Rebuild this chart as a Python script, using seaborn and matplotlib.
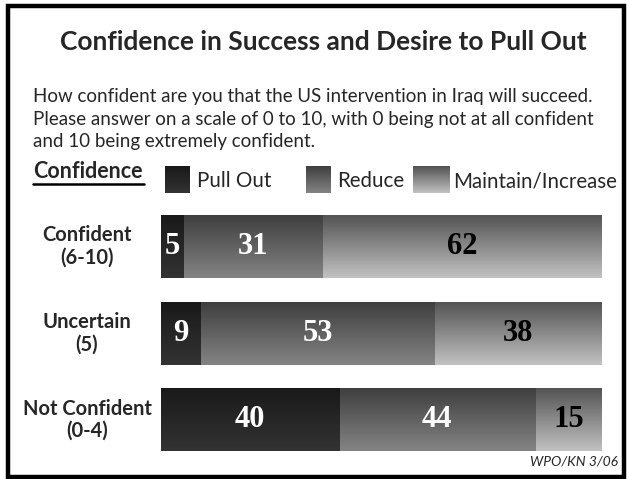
import numpy as np
import pandas as pd
import matplotlib
matplotlib.use("Agg")
import matplotlib.pyplot as plt
from matplotlib.patches import Rectangle
from matplotlib.transforms import blended_transform_factory
import seaborn as sns

# data
categories = ["Confident\n(6-10)", "Uncertain\n(5)", "Not Confident\n(0-4)"]
series = ["Pull Out", "Reduce", "Maintain/Increase"]
pull_out = [5, 9, 40]
reduce_ = [31, 53, 44]
maintain = [62, 38, 15]

# gradient colours (top -> bottom) per series
grad = {
    "Pull Out": ("#191919", "#333333"),
    "Reduce": ("#3e3e3e", "#848484"),
    "Maintain/Increase": ("#525252", "#c2c2c2"),
}
text_col = {"Pull Out": "white", "Reduce": "white", "Maintain/Increase": "black"}

W, H = 629, 479


def fx(px):
    return px / W


def fy(py):
    return 1 - py / H


def gradient_img(top, bottom, n=128):
    c0 = np.array(matplotlib.colors.to_rgb(top))
    c1 = np.array(matplotlib.colors.to_rgb(bottom))
    t = np.linspace(0, 1, n)[:, None, None]
    return c0 + (c1 - c0) * t


df = pd.DataFrame({"cat": categories, "Pull Out": pull_out,
                   "Reduce": reduce_, "Maintain/Increase": maintain})
totals = df[series].sum(axis=1)
# each bar drawn as share of its row so all rows span the full width
shares = df[series].div(totals, axis=0) * 100
df["c1"] = shares["Pull Out"]
df["c2"] = shares["Pull Out"] + shares["Reduce"]
df["c3"] = df["c2"] + shares["Maintain/Increase"]

sns.set_theme(style="white")
plt.rcParams["font.family"] = ["Lato", "DejaVu Sans"]

fig = plt.figure(figsize=(W / 100, H / 100), dpi=100)
ax = fig.add_axes([fx(161), fy(463.3), fx(602) - fx(161), fy(203.2) - fy(463.3)])

# stacked bars: draw cumulative totals back to front
bw = 0.727
for col in ["c3", "c2", "c1"]:
    sns.barplot(data=df, x=col, y="cat", orient="h", color="gray",
                width=bw, ax=ax, edgecolor="none", linewidth=0)

names_order = ["Maintain/Increase", "Reduce", "Pull Out"]
for cont, name in zip(ax.containers, names_order):
    img = gradient_img(*grad[name])
    for p in cont.patches:
        x0, y0 = p.get_x(), p.get_y()
        w, h = p.get_width(), p.get_height()
        p.set_facecolor("none")
        im = ax.imshow(img, extent=(x0, x0 + w, y0, y0 + h), origin="lower",
                       aspect="auto", zorder=2, interpolation="bilinear")
        im.set_clip_path(p)

ax.set_xlim(0, 100)
ax.set_ylim(2.5, -0.5)
ax.axis("off")

# value labels centred in each segment
starts = {"Pull Out": [0] * 3, "Reduce": list(df["c1"]), "Maintain/Increase": list(df["c2"])}
for name in series:
    for i in range(len(categories)):
        mid = starts[name][i] + shares[name].iloc[i] / 2
        ax.text(mid, i, str(df[name].iloc[i]), ha="center", va="center",
                fontsize=22, fontweight="bold", family="Liberation Serif",
                color=text_col[name], zorder=5)

# category labels
lab_tr = blended_transform_factory(fig.transFigure, ax.transData)
for i, cat in enumerate(categories):
    ax.text(fx(87), i, cat, transform=lab_tr, ha="center", va="center",
            fontsize=14.5, fontweight="bold", linespacing=1.15)

# title, question, source
fig.text(fx(323), fy(42), "Confidence in Success and Desire to Pull Out",
         ha="center", va="center", fontsize=19, fontweight="bold")
fig.text(fx(33), fy(119),
         "How confident are you that the US intervention in Iraq will succeed.\n"
         "Please answer on a scale of 0 to 10, with 0 being not at all confident\n"
         "and 10 being extremely confident.",
         ha="left", va="center", fontsize=13.5, linespacing=1.4)
fig.text(fx(618), fy(462), "WPO/KN 3/06", ha="right", va="center",
         fontsize=10, style="italic")

# legend
fig.text(fx(33), fy(171), "Confidence", ha="left", va="center",
         fontsize=15.5, fontweight="bold")
fig.add_artist(plt.Line2D([fx(33), fx(144)], [fy(184), fy(184)], color="black",
                          lw=1.8, transform=fig.transFigure))
leg = [("Pull Out", 165, 190, 197), ("Reduce", 306, 331, 337),
       ("Maintain/Increase", 413, 450, 453)]
for name, x0, x1, tx in leg:
    lax = fig.add_axes([fx(x0), fy(193), fx(x1) - fx(x0), fy(166) - fy(193)])
    lax.imshow(gradient_img(*grad[name]), aspect="auto", interpolation="bilinear")
    lax.axis("off")
    fig.text(fx(tx), fy(181), name, ha="left", va="center", fontsize=14.8)

# frame
fig.add_artist(Rectangle((fx(8), fy(477)), fx(624) - fx(8), fy(6) - fy(477),
                         fill=False, edgecolor="black", lw=3.2,
                         transform=fig.transFigure))

fig.savefig("out.png", dpi=100)
